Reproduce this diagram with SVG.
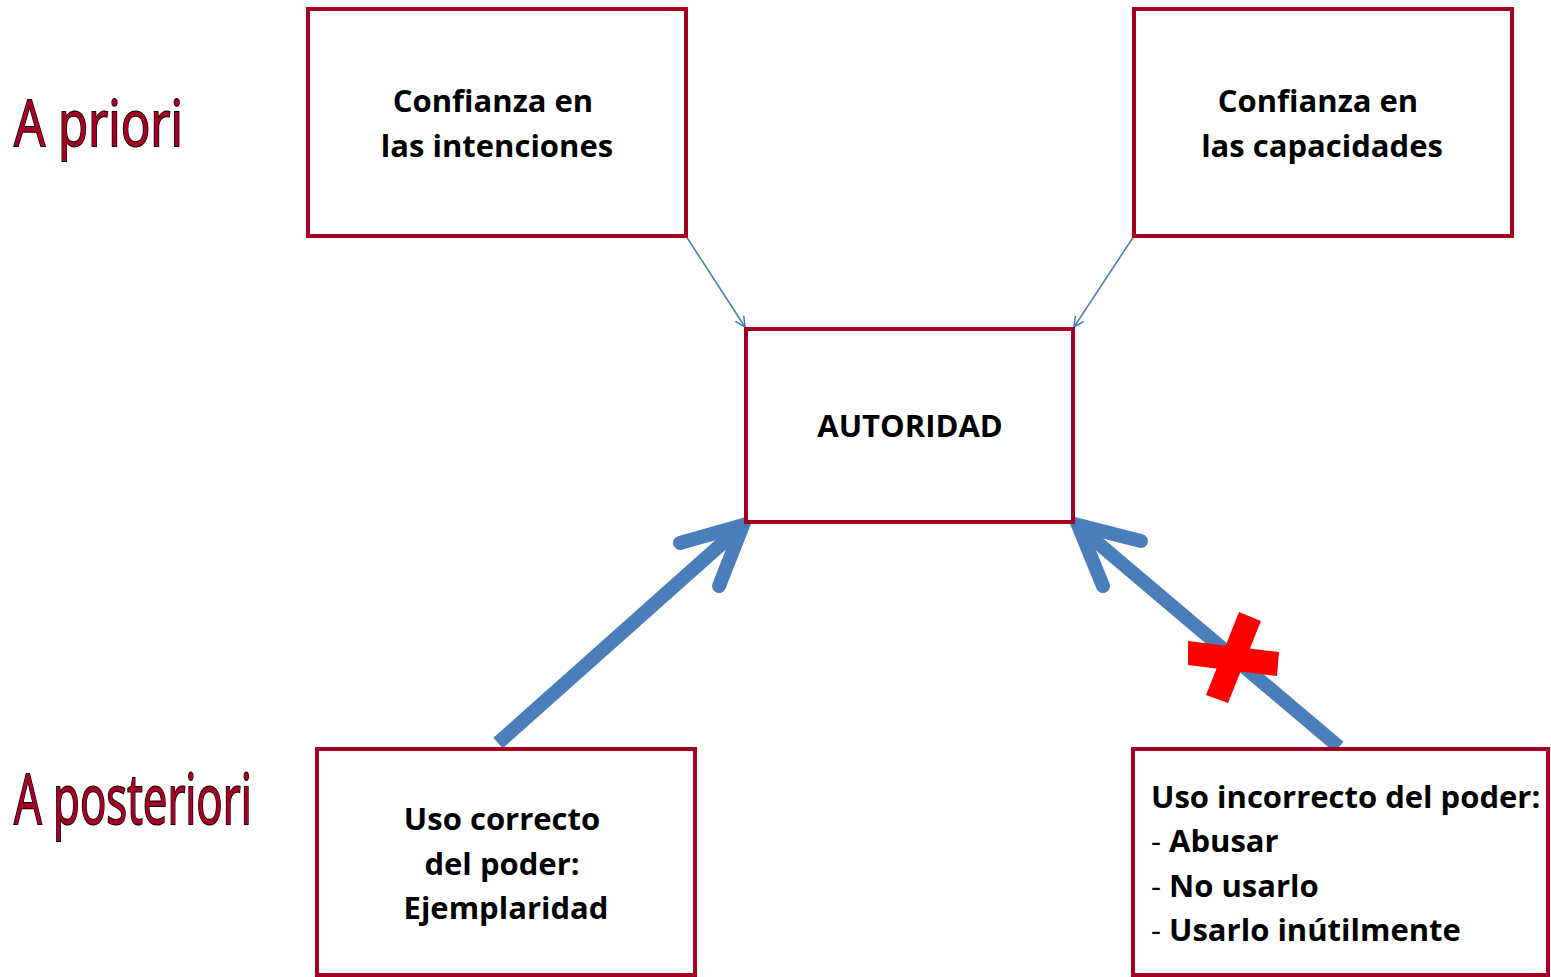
<svg xmlns="http://www.w3.org/2000/svg" width="1551" height="977" viewBox="0 0 1551 977">
<defs>
<style>
.box{fill:#fff;stroke:#A50021;stroke-width:4}
.t{font-family:"Open Sans","Liberation Sans",sans-serif;font-weight:bold;font-size:31px;fill:#000}
.big{font-family:"Open Sans","Liberation Sans",sans-serif;font-size:64px;fill:#A50021;stroke:#000;stroke-width:1.8;paint-order:stroke}
.thin{stroke:#4A7EBB;stroke-width:1.6;fill:none}
.thick{stroke:#4A7EBB;stroke-width:14;fill:none;stroke-linecap:butt}
.chev{stroke:#4A7EBB;stroke-width:14;fill:none;stroke-linecap:round;stroke-linejoin:miter}
.n{font-weight:normal}
</style>
<marker id="open" viewBox="0 0 12 12" refX="11" refY="6" markerWidth="12" markerHeight="12" markerUnits="userSpaceOnUse" orient="auto">
<path d="M1,1 L11,6 L1,11" fill="none" stroke="#4A7EBB" stroke-width="1.6"/>
</marker>
</defs>
<rect width="1551" height="977" fill="#fff"/>
<text class="big" transform="translate(14,146) scale(0.77,1)" x="0" y="0">A priori</text>
<text class="big" transform="translate(14,824) scale(0.685,1.1)" x="0" y="0">A posteriori</text>
<g id="connectors">
<line class="thin" x1="686" y1="236" x2="745" y2="327" marker-end="url(#open)"/>
<line class="thin" x1="1134" y1="236" x2="1074" y2="327" marker-end="url(#open)"/>
<line class="thick" x1="498" y1="743" x2="735" y2="532"/>
<polyline class="chev" points="680,543 743,525 719,586"/>
<line class="thick" x1="1339" y1="747" x2="1086" y2="533"/>
<polyline class="chev" points="1141,541 1078,525 1103,586"/>
<g id="cross" fill="#FF0000">
<polygon points="1188,641 1279,652 1277,676 1188,665"/>
<polygon points="1239,612 1261,621 1228,703 1206,695"/>
</g>
</g>
<g id="n1"><rect class="box" x="308" y="9" width="378" height="227"/>
<text class="t" text-anchor="middle" x="493" y="112">Confianza en</text>
<text class="t" text-anchor="middle" x="497" y="157">las intenciones</text></g>
<g id="n2"><rect class="box" x="1134" y="9" width="378" height="227"/>
<text class="t" text-anchor="middle" x="1318" y="112">Confianza en</text>
<text class="t" text-anchor="middle" x="1322" y="157">las capacidades</text></g>
<g id="n3"><rect class="box" x="746" y="329" width="327" height="193"/>
<text class="t" text-anchor="middle" x="910" y="437">AUTORIDAD</text></g>
<g id="n4"><rect class="box" x="317" y="749" width="378" height="226"/>
<text class="t" text-anchor="middle" x="502" y="830">Uso correcto</text>
<text class="t" text-anchor="middle" x="502" y="875">del poder:</text>
<text class="t" text-anchor="middle" x="506" y="919">Ejemplaridad</text></g>
<g id="n5"><rect class="box" x="1133" y="749" width="415" height="226"/>
<text class="t" x="1151" y="808">Uso incorrecto del poder:</text>
<text class="t" x="1151" y="852"><tspan class="n">- </tspan>Abusar</text>
<text class="t" x="1151" y="897"><tspan class="n">- </tspan>No usarlo</text>
<text class="t" x="1151" y="941"><tspan class="n">- </tspan>Usarlo inútilmente</text></g>
</svg>
